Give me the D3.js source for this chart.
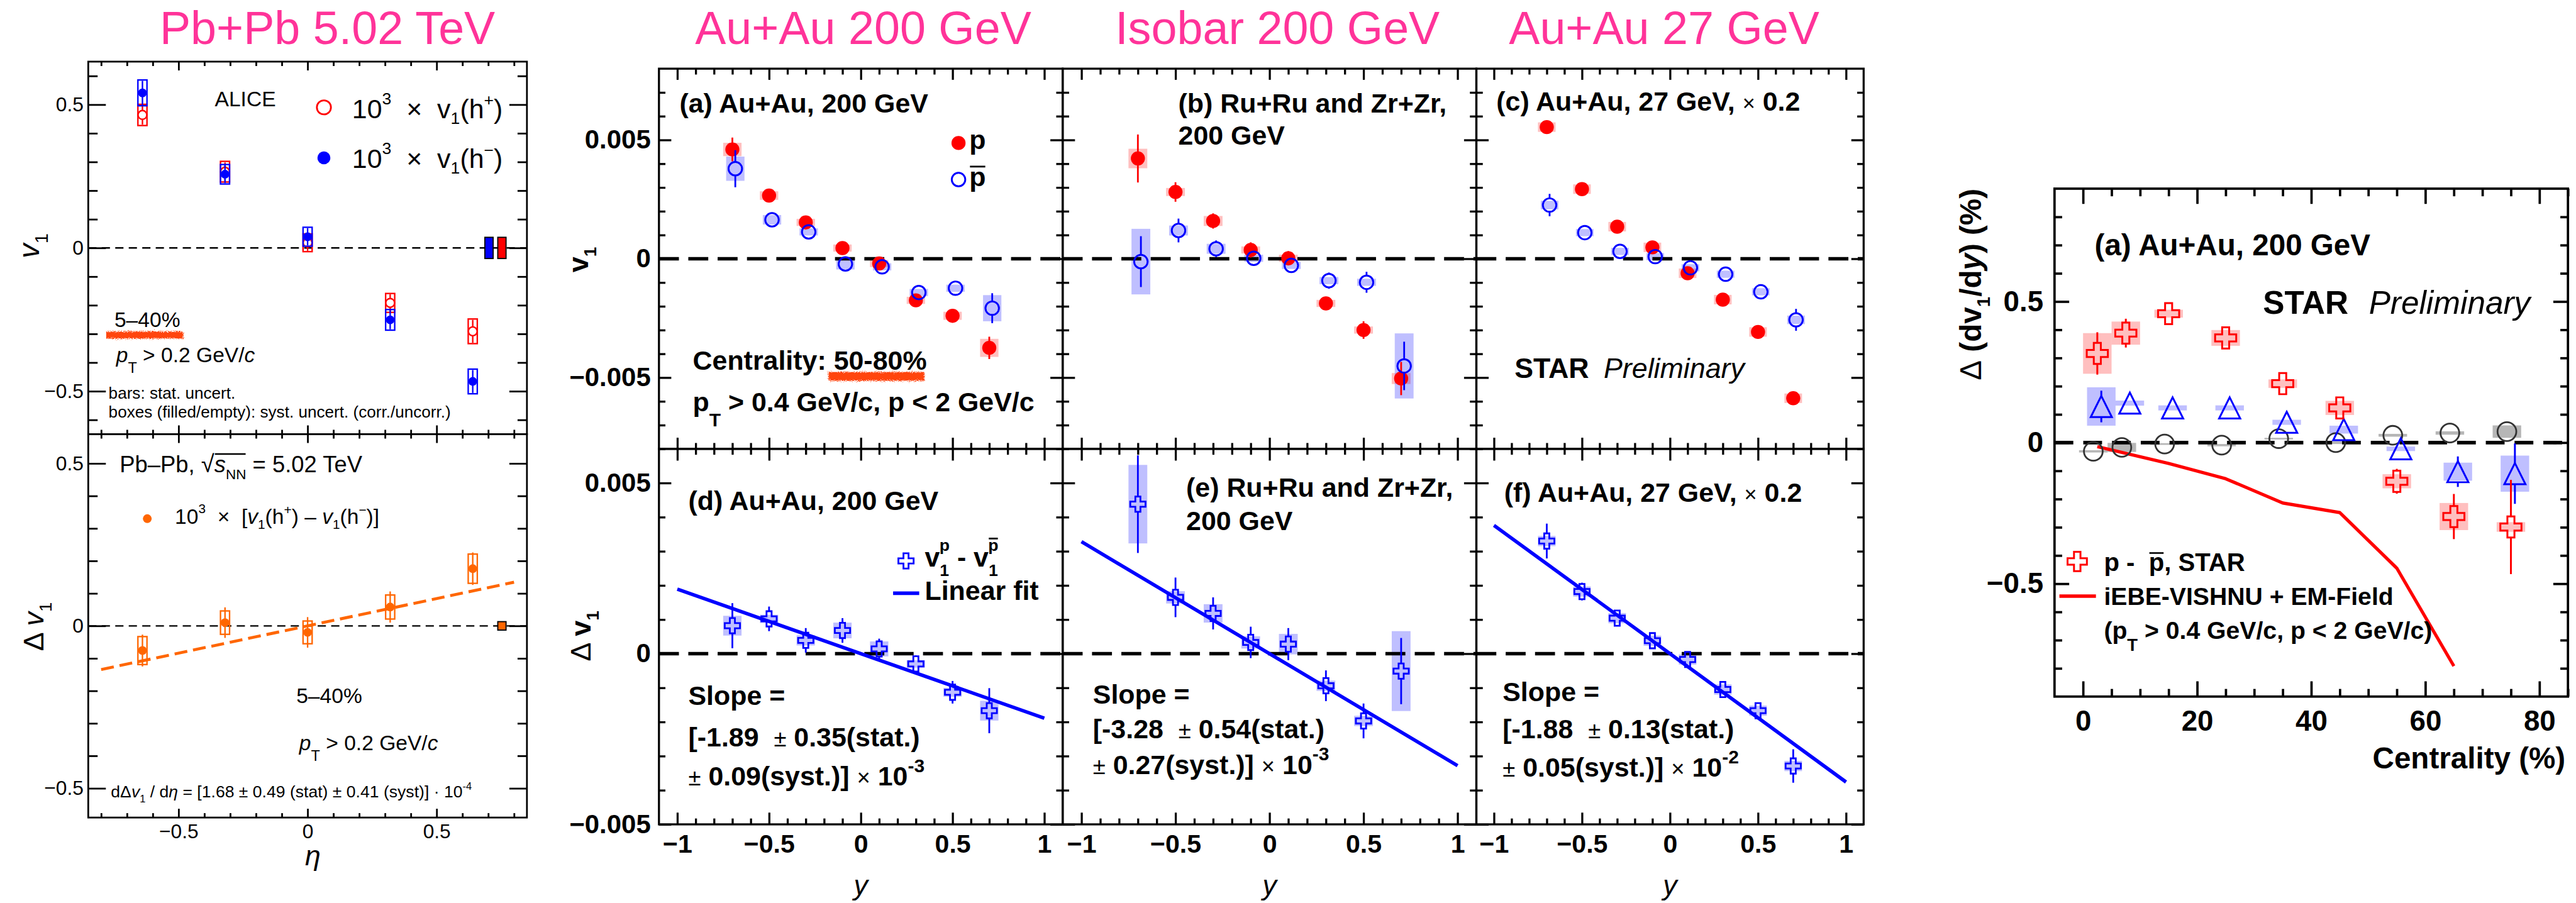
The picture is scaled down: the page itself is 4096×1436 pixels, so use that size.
<!DOCTYPE html>
<html>
<head>
<meta charset="utf-8">
<script src="https://cdn.jsdelivr.net/npm/d3@7"></script>
<style>
  html, body { margin: 0; padding: 0; background: #fff; }
  svg { display: block; }
  text { white-space: pre; }
</style>
</head>
<body>
<script>
// ---------------- ALICE Pb+Pb 5.02 TeV (5-40%) ----------------
const etaBins = [-0.64, -0.32, 0, 0.32, 0.64];
const v1HPlus = [0.464, 0.266, 0.018, -0.192, -0.291];
const v1HPlusStat = [0.034, 0.032, 0.028, 0.030, 0.040];
const v1HPlusSys = [0.037, 0.036, 0.031, 0.033, 0.043];
const v1HMinus = [0.541, 0.257, 0.039, -0.251, -0.466];
const v1HMinusStat = [0.042, 0.031, 0.030, 0.033, 0.040];
const v1HMinusSys = [0.045, 0.034, 0.033, 0.036, 0.043];
const v1CorrSys = [0.037, 0.037];            // h-, h+ correlated boxes
const dv1Eta = [-0.076, 0.010, -0.020, 0.058, 0.176];
const dv1EtaStat = [0.049, 0.047, 0.047, 0.048, 0.050];
const dv1EtaSys = [0.043, 0.036, 0.035, 0.037, 0.045];
const dv1EtaCorrSys = 0.013;
const dv1EtaSlope = 0.168;                    // 10^3 x 1.68e-4

// ---------------- STAR v1 vs rapidity ----------------
const rapidity = [-0.7, -0.5, -0.3, -0.1, 0.1, 0.3, 0.5, 0.7];

const v1pAu200 = [0.00460, 0.00266, 0.00153, 0.00045, -0.00020, -0.00175, -0.00240, -0.00375];
const v1pAu200Stat = [0.00050, 0.00016, 0.00015, 0.00015, 0.00015, 0.00016, 0.00016, 0.00047];
const v1pAu200Sys = [0.00028, 0.00018, 0.00015, 0.00015, 0.00015, 0.00015, 0.00017, 0.00038];
const v1pbarAu200 = [0.00379, 0.00164, 0.00113, -0.00022, -0.00034, -0.00142, -0.00124, -0.00208];
const v1pbarAu200Stat = [0.00078, 0.00030, 0.00020, 0.00020, 0.00020, 0.00020, 0.00020, 0.00063];
const v1pbarAu200Sys = [0.00051, 0.00020, 0.00015, 0.00023, 0.00015, 0.00015, 0.00015, 0.00055];

const v1pIso = [0.00422, 0.00281, 0.00159, 0.00037, 0.00002, -0.00188, -0.00300, -0.00504];
const v1pIsoStat = [0.00101, 0.00041, 0.00032, 0.00032, 0.00030, 0.00028, 0.00037, 0.00070];
const v1pIsoSys = [0.00041, 0.00017, 0.00021, 0.00015, 0.00015, 0.00015, 0.00015, 0.00023];
const v1pbarIso = [-0.00012, 0.00119, 0.00042, 0.00002, -0.00028, -0.00092, -0.00099, -0.00451];
const v1pbarIsoStat = [0.00107, 0.00050, 0.00035, 0.00030, 0.00030, 0.00034, 0.00044, 0.00102];
const v1pbarIsoSys = [0.00138, 0.00021, 0.00021, 0.00015, 0.00015, 0.00015, 0.00015, 0.00137];

// Au+Au 27 GeV values (drawn x 0.2)
const v1pAu27 = [0.0277, 0.01465, 0.00675, 0.0024, -0.00305, -0.0086, -0.0154, -0.02935];
const v1pAu27Stat = [0.00075, 0.00075, 0.00075, 0.00075, 0.00075, 0.00075, 0.00075, 0.00075];
const v1pAu27Sys = [0.001, 0.001, 0.001, 0.001, 0.001, 0.001, 0.001, 0.001];
const v1pbarAu27 = [0.0113, 0.0055, 0.00155, 0.00045, -0.0019, -0.00325, -0.00695, -0.01285];
const v1pbarAu27Stat = [0.00235, 0.00125, 0.0011, 0.0011, 0.0011, 0.0011, 0.00125, 0.0023];
const v1pbarAu27Sys = [0.0009, 0.00075, 0.00075, 0.00075, 0.00075, 0.00075, 0.00075, 0.0009];
const scaleAu27 = 0.2;

const dv1Au200 = [0.00082, 0.00102, 0.00039, 0.00068, 0.00014, -0.00030, -0.00113, -0.00167];
const dv1Au200Stat = [0.00066, 0.00036, 0.00036, 0.00036, 0.00030, 0.00025, 0.00033, 0.00066];
const dv1Au200Sys = [0.00029, 0.00012, 0.00015, 0.00023, 0.00022, 0.00011, 0.00013, 0.00029];
const dv1Iso = [0.00438, 0.00165, 0.00118, 0.00033, 0.00028, -0.00094, -0.00197, -0.00051];
const dv1IsoStat = [0.00143, 0.00058, 0.00047, 0.00046, 0.00047, 0.00045, 0.00051, 0.00097];
const dv1IsoSys = [0.00115, 0.00018, 0.00027, 0.00018, 0.00030, 0.00015, 0.00015, 0.00117];
const dv1Au27 = [0.0165, 0.0091, 0.0052, 0.0019, -0.00085, -0.00525, -0.00835, -0.01645];
const dv1Au27Stat = [0.00255, 0.0013, 0.0011, 0.0011, 0.0011, 0.0011, 0.0011, 0.00245];
const dv1Au27Sys = [0.00075, 0.00075, 0.00075, 0.00075, 0.00075, 0.00075, 0.00075, 0.00075];

const slopeAu200 = -1.89e-3;
const slopeIso = -3.28e-3;
const slopeAu27 = -1.88e-2;

// ---------------- STAR d(dv1/dy) vs centrality ----------------
const centrality = [2.5, 7.5, 15, 25, 35, 45, 55, 65, 75];
const dSlopePPbar = [0.316, 0.388, 0.457, 0.371, 0.209, 0.123, -0.137, -0.262, -0.299];
const dSlopePPbarStat = [0.075, 0.051, 0.020, 0.020, 0.020, 0.020, 0.044, 0.080, 0.167];
const dSlopePPbarSys = [0.072, 0.041, 0.014, 0.028, 0.015, 0.025, 0.025, 0.048, 0.017];
const dSlopeTriangle = [0.128, 0.140, 0.123, 0.123, 0.072, 0.046, -0.022, -0.103, -0.110];
const dSlopeTriangleStat = [0.056, 0.015, 0.010, 0.010, 0.015, 0.015, 0.020, 0.054, 0.107];
const dSlopeTriangleSys = [0.068, 0.009, 0.009, 0.009, 0.009, 0.014, 0.008, 0.032, 0.064];
const dSlopeCircle = [-0.031, -0.017, -0.005, -0.009, 0.014, 0.000, 0.026, 0.034, 0.039];
const dSlopeCircleSys = [0.004, 0.016, 0.003, 0.004, 0.003, 0.005, 0.005, 0.006, 0.022];
const modelCentrality = [2.5, 15, 25, 35, 45, 55, 65];
const modelEMField = [-0.014, -0.074, -0.128, -0.214, -0.248, -0.445, -0.792];

// ---------------- drawing ----------------
const FONT = "'Liberation Sans', Arial, Helvetica, sans-serif";
const PINK = '#ff3399', RED = '#ff0000', BLUE = '#0000ff', ORANGE = '#ff6600';
const W = 4390, H = 1539;

const svg = d3.select('body').append('svg')
  .attr('width', 4096).attr('height', 1436)
  .attr('viewBox', `0 0 ${W} ${H}`);

const defs = svg.append('defs');
const rough = defs.append('filter').attr('id', 'rough').attr('x', '-10%').attr('y', '-80%').attr('width', '120%').attr('height', '260%');
rough.append('feTurbulence').attr('type', 'fractalNoise').attr('baseFrequency', '0.9').attr('numOctaves', 2).attr('seed', 3).attr('result', 'n');
rough.append('feDisplacementMap').attr('in', 'SourceGraphic').attr('in2', 'n').attr('scale', 9);

const overlineJobs = [];

// Rich text: parts are strings or {t, sub, sup, i, w, s, dx, over, overY}
function rich(parent, x, y, parts, o) {
  const g = parent.append('g').attr('transform', `translate(${x},${y})` + (o.rot ? ` rotate(${o.rot})` : ''));
  const t = g.append('text')
    .attr('font-family', FONT).attr('font-size', o.size)
    .attr('font-weight', o.weight || 'normal').attr('fill', o.fill || '#000')
    .attr('text-anchor', o.anchor || 'start');
  if (o.italic) t.attr('font-style', 'italic');
  let shift = 0;
  parts.forEach(p => {
    if (typeof p === 'string') p = { t: p };
    let target = 0, sc = p.s || 1;
    if (p.sub) { target = (p.sub === true ? 0.3 : p.sub); sc = p.s || 0.62; }
    if (p.sup) { target = -(p.sup === true ? 0.45 : p.sup); sc = p.s || 0.62; }
    const ts = t.append('tspan').text(p.t).attr('font-size', o.size * sc);
    const d = (target - shift) * o.size;
    if (d) ts.attr('dy', d);
    shift = target;
    if (p.dx) ts.attr('dx', p.dx * o.size);
    if (p.i) ts.attr('font-style', 'italic');
    if (p.w) ts.attr('font-weight', p.w);
    if (p.over) overlineJobs.push({ g, node: ts.node(), id: p.over, yb: target * o.size, fs: o.size * sc, overY: p.overY, base: o.size, color: o.fill || '#000' });
  });
  return g;
}

function drawOverlines() {
  const groups = d3.group(overlineJobs, d => d.g.node(), d => d.id);
  groups.forEach(byId => byId.forEach(jobs => {
    let xa = Infinity, xb = -Infinity, yTop = Infinity;
    jobs.forEach(j => {
      const n = j.node.getNumberOfChars();
      for (let k = 0; k < n; k++) {
        const e = j.node.getExtentOfChar(k);
        xa = Math.min(xa, e.x); xb = Math.max(xb, e.x + e.width);
      }
      const yy = j.overY !== undefined ? -j.overY * j.base : j.yb - 0.72 * j.fs;
      yTop = Math.min(yTop, yy);
    });
    const j0 = jobs[0];
    j0.g.append('line').attr('x1', xa + 1).attr('x2', xb - 1).attr('y1', yTop).attr('y2', yTop)
      .attr('stroke', j0.color).attr('stroke-width', Math.max(2, 0.065 * j0.base));
  }));
}

function crossPath(s) {
  const h = s / 2, a = s / 6;
  return `M${-a},${-h}H${a}V${-a}H${h}V${a}H${a}V${h}H${-a}V${a}H${-h}V${-a}H${-a}Z`;
}
function trianglePath(s) {
  const h = s / 2;
  return `M0,${-h}L${h},${h}L${-h},${h}Z`;
}

// Ticks on all four sides, pointing inward, built from d3 axes
function frame(g, xs, ys, o) {
  const [x0, x1] = xs.range();
  const [yb, yt] = ys.range();
  const put = (mk, tx, ty, vals, len) => {
    g.append('g').attr('transform', `translate(${tx},${ty})`)
      .call(mk().tickValues(vals).tickSizeInner(-len).tickSizeOuter(0).tickFormat(''))
      .call(s => s.select('.domain').remove())
      .call(s => s.selectAll('line').attr('stroke', '#000').attr('stroke-width', o.sw));
  };
  put(() => d3.axisBottom(xs), 0, yb, o.xMajor, o.xLen[0]);
  put(() => d3.axisBottom(xs), 0, yb, o.xMinor, o.xLen[1]);
  put(() => d3.axisTop(xs), 0, yt, o.xMajor, o.xLen[0]);
  put(() => d3.axisTop(xs), 0, yt, o.xMinor, o.xLen[1]);
  put(() => d3.axisLeft(ys), x0, 0, o.yMajor, o.yLen[0]);
  put(() => d3.axisLeft(ys), x0, 0, o.yMinor, o.yLen[1]);
  put(() => d3.axisRight(ys), x1, 0, o.yMajor, o.yLen[0]);
  put(() => d3.axisRight(ys), x1, 0, o.yMinor, o.yLen[1]);
  g.append('rect').attr('x', x0).attr('y', yt).attr('width', x1 - x0).attr('height', yb - yt)
    .attr('fill', 'none').attr('stroke', '#000').attr('stroke-width', o.sw);
}

function tickLabels(g, axis, tx, ty, vals, size, weight, pad) {
  g.append('g').attr('transform', `translate(${tx},${ty})`)
    .call(axis.tickValues(vals).tickSize(0).tickPadding(pad).tickFormat(d3.format('~g')))
    .call(s => s.select('.domain').remove())
    .call(s => s.selectAll('text').attr('font-family', FONT).attr('font-size', size)
      .attr('font-weight', weight).attr('fill', '#000'));
}

function zeroLine(g, xs, ys, o) {
  g.append('line').attr('x1', xs.range()[0]).attr('x2', xs.range()[1])
    .attr('y1', ys(0)).attr('y2', ys(0))
    .attr('stroke', '#000').attr('stroke-width', o.w).attr('stroke-dasharray', o.dash);
}

// Error bars with a gap for open markers
function statBars(g, rows, xs, ys, color, width, gap) {
  rows.forEach(d => {
    const x = xs(d.x), yc = ys(d.v), yTop = ys(d.v + d.st), yBot = ys(d.v - d.st);
    if (gap > 0) {
      if (yc - gap > yTop) g.append('line').attr('x1', x).attr('x2', x).attr('y1', yTop).attr('y2', yc - gap).attr('stroke', color).attr('stroke-width', width);
      if (yc + gap < yBot) g.append('line').attr('x1', x).attr('x2', x).attr('y1', yc + gap).attr('y2', yBot).attr('stroke', color).attr('stroke-width', width);
    } else {
      g.append('line').attr('x1', x).attr('x2', x).attr('y1', yTop).attr('y2', yBot).attr('stroke', color).attr('stroke-width', width);
    }
  });
}

function makeRows(xv, vals, stat, sys, dx, k) {
  return xv.map((x, i) => ({ x: x + dx, v: vals[i] * k, st: (stat ? stat[i] : 0) * k, sy: sys[i] * k }));
}

function shadedBoxes(g, rows, xs, ys, bw, fill, op) {
  g.selectAll(null).data(rows).join('rect')
    .attr('x', d => xs(d.x - bw)).attr('width', d => xs(d.x + bw) - xs(d.x - bw))
    .attr('y', d => ys(d.v + d.sy)).attr('height', d => ys(d.v - d.sy) - ys(d.v + d.sy))
    .attr('fill', fill).attr('fill-opacity', op);
}

// ---------------- pink headers ----------------
[['Pb+Pb 5.02 TeV', 558], ['Au+Au 200 GeV', 1471], ['Isobar 200 GeV', 2177], ['Au+Au 27 GeV', 2836]]
  .forEach(([t, x]) => svg.append('text').text(t).attr('x', x).attr('y', 75)
    .attr('text-anchor', 'middle').attr('font-family', FONT).attr('font-size', 79).attr('fill', PINK));

// ======================= ALICE panels =======================
{
  const g = svg.append('g');
  const xEta = d3.scaleLinear().domain([-0.85, 0.85]).range([150.4, 898]);
  const yTop = d3.scaleLinear().domain([-0.65, 0.65]).range([740, 105]);
  const yBot = d3.scaleLinear().domain([-0.59, 0.59]).range([1393.4, 740]);
  const etaMinor = d3.range(-0.8, 0.801, 0.1).map(v => +v.toFixed(2)).filter(v => Math.abs(v % 0.5) > 1e-6);
  const lMinor = (a, b) => d3.range(a, b + 0.001, 0.1).map(v => +v.toFixed(2)).filter(v => Math.abs(v % 0.5) > 1e-6);
  const axOpt = { xMajor: [-0.5, 0, 0.5], xMinor: etaMinor, xLen: [15, 7.5], yLen: [30, 16], sw: 3 };

  // top panel: v1 of h+ and h-
  zeroLine(g, xEta, yTop, { w: 2.5, dash: '14 9' });
  const bwL = 0.0176;
  const drawAlice = (vals, stat, sys, color, filled) => {
    const rows = makeRows(etaBins, vals, stat, sys, 0, 1);
    g.selectAll(null).data(rows).join('rect')
      .attr('x', d => xEta(d.x - bwL)).attr('width', d => xEta(d.x + bwL) - xEta(d.x - bwL))
      .attr('y', d => yTop(d.v + d.sy)).attr('height', d => yTop(d.v - d.sy) - yTop(d.v + d.sy))
      .attr('fill', 'none').attr('stroke', color).attr('stroke-width', 2.5);
    statBars(g, rows, xEta, yTop, color, 2.5, 0);
    g.selectAll(null).data(rows).join('circle')
      .attr('cx', d => xEta(d.x)).attr('cy', d => yTop(d.v)).attr('r', 7.5)
      .attr('fill', filled ? color : '#fff').attr('stroke', color).attr('stroke-width', filled ? 0 : 2.5);
  };
  drawAlice(v1HPlus, v1HPlusStat, v1HPlusSys, RED, false);
  drawAlice(v1HMinus, v1HMinusStat, v1HMinusSys, BLUE, true);
  // correlated systematic boxes
  [[0.703, v1CorrSys[0], BLUE], [0.753, v1CorrSys[1], RED]].forEach(([e, s, c]) => {
    g.append('rect').attr('x', xEta(e - 0.016)).attr('width', xEta(e + 0.016) - xEta(e - 0.016))
      .attr('y', yTop(s)).attr('height', yTop(-s) - yTop(s))
      .attr('fill', c).attr('stroke', '#000').attr('stroke-width', 2);
  });
  frame(g, xEta, yTop, Object.assign({ yMajor: [-0.5, 0, 0.5], yMinor: lMinor(-0.6, 0.6) }, axOpt));
  tickLabels(g, d3.axisLeft(yTop), 150.4, 0, [-0.5, 0, 0.5], 34, 'normal', 8);
  rich(g, 66, 419, [{ t: 'v', i: true }, { t: '1', sub: 0.3 }], { size: 50, rot: -90, anchor: 'middle' });

  rich(g, 366, 181, ['ALICE'], { size: 36 });
  g.append('circle').attr('cx', 552).attr('cy', 183).attr('r', 12).attr('fill', 'none').attr('stroke', RED).attr('stroke-width', 3);
  g.append('circle').attr('cx', 552).attr('cy', 269).attr('r', 11).attr('fill', BLUE);
  rich(g, 600, 201, ['10', { t: '3', sup: 0.5 }, '  ×  v', { t: '1', sub: 0.22 }, '(h', { t: '+', sup: 0.45 }, ')'], { size: 46 });
  rich(g, 600, 286, ['10', { t: '3', sup: 0.5 }, '  ×  v', { t: '1', sub: 0.22 }, '(h', { t: '−', sup: 0.45 }, ')'], { size: 46 });
  g.append('rect').attr('x', 181).attr('y', 565).attr('width', 131).attr('height', 12).attr('fill', '#ff4411').attr('filter', 'url(#rough)');
  rich(g, 195, 557, ['5–40%'], { size: 36 });
  rich(g, 198, 617, [{ t: 'p', i: true }, { t: 'T', sub: 0.5, s: 0.7 }, ' > 0.2 GeV/', { t: 'c', i: true }], { size: 36 });
  rich(g, 185, 680, ['bars: stat. uncert.'], { size: 28 });
  rich(g, 185, 712, ['boxes (filled/empty): syst. uncert. (corr./uncorr.)'], { size: 28 });

  // bottom panel: difference with linear fit
  zeroLine(g, xEta, yBot, { w: 2.5, dash: '14 9' });
  const rowsD = makeRows(etaBins, dv1Eta, dv1EtaStat, dv1EtaSys, 0, 1);
  g.selectAll(null).data(rowsD).join('rect')
    .attr('x', d => xEta(d.x - bwL)).attr('width', d => xEta(d.x + bwL) - xEta(d.x - bwL))
    .attr('y', d => yBot(d.v + d.sy)).attr('height', d => yBot(d.v - d.sy) - yBot(d.v + d.sy))
    .attr('fill', 'none').attr('stroke', ORANGE).attr('stroke-width', 2.5);
  statBars(g, rowsD, xEta, yBot, ORANGE, 2.5, 0);
  const fitL = [-0.8, 0.8];
  g.append('path').datum(fitL)
    .attr('d', d3.line().x(e => xEta(e)).y(e => yBot(dv1EtaSlope * e)))
    .attr('stroke', ORANGE).attr('stroke-width', 5).attr('stroke-dasharray', '22 10').attr('fill', 'none');
  g.selectAll(null).data(rowsD).join('circle')
    .attr('cx', d => xEta(d.x)).attr('cy', d => yBot(d.v)).attr('r', 7.5).attr('fill', ORANGE);
  g.append('rect').attr('x', xEta(0.753 - 0.016)).attr('width', xEta(0.753 + 0.016) - xEta(0.753 - 0.016))
    .attr('y', yBot(dv1EtaCorrSys)).attr('height', yBot(-dv1EtaCorrSys) - yBot(dv1EtaCorrSys))
    .attr('fill', ORANGE).attr('stroke', '#000').attr('stroke-width', 2);
  frame(g, xEta, yBot, Object.assign({ yMajor: [-0.5, 0, 0.5], yMinor: lMinor(-0.5, 0.5) }, axOpt));
  tickLabels(g, d3.axisLeft(yBot), 150.4, 0, [-0.5, 0, 0.5], 34, 'normal', 8);
  tickLabels(g, d3.axisBottom(xEta), 0, 1393.4, [-0.5, 0, 0.5], 34, 'normal', 11);
  rich(g, 533, 1475, [{ t: 'η', i: true }], { size: 48, anchor: 'middle' });
  rich(g, 74, 1068, ['Δ ', { t: 'v', i: true }, { t: '1', sub: 0.3 }], { size: 48, rot: -90, anchor: 'middle' });

  rich(g, 204, 805, ['Pb–Pb, ', { t: '√', s: 1.05 }, { t: 's', i: true, over: 'r', overY: 0.8 }, { t: 'NN', sub: 0.3, over: 'r' }, ' = 5.02 TeV'], { size: 39 });
  g.append('circle').attr('cx', 251).attr('cy', 884).attr('r', 7.5).attr('fill', ORANGE);
  rich(g, 298, 893, ['10', { t: '3', sup: 0.5 }, '  ×  [', { t: 'v', i: true }, { t: '1', sub: 0.22 }, '(h', { t: '+', sup: 0.45 }, ') – ', { t: 'v', i: true }, { t: '1', sub: 0.22 }, '(h', { t: '−', sup: 0.45 }, ')]'], { size: 36 });
  rich(g, 505, 1198, ['5–40%'], { size: 36 });
  rich(g, 510, 1279, [{ t: 'p', i: true }, { t: 'T', sub: 0.5, s: 0.7 }, ' > 0.2 GeV/', { t: 'c', i: true }], { size: 36 });
  rich(g, 189, 1358.6, ['dΔ', { t: 'v', i: true }, { t: '1', sub: 0.3 }, ' / d', { t: 'η', i: true }, ' = [1.68 ± 0.49 (stat) ± 0.41 (syst)] · 10', { t: '-4', sup: 0.45 }], { size: 28.5 });
}

// ======================= STAR v1(y) panels =======================
const midTop = d3.scaleLinear().domain([-0.008, 0.008]).range([765, 117]);
const midBot = d3.scaleLinear().domain([-0.005, 0.006]).range([1405, 765]);
const midCols = [
  { x0: 1123, x1: 1811 },
  { x0: 1811, x1: 2516 },
  { x0: 2516, x1: 3176 }
];
const stepTicks = (a, b, st, skip) => d3.range(a, b + st / 2, st).map(v => +v.toFixed(6)).filter(v => !skip.some(s => Math.abs(s - v) < st / 4));
const yMajorMid = [-0.005, 0, 0.005];
const xMajorMid = [-1, -0.5, 0, 0.5, 1];
const xMinorMid = stepTicks(-1, 1, 0.1, xMajorMid);

const topSets = [
  { p: [v1pAu200, v1pAu200Stat, v1pAu200Sys], pb: [v1pbarAu200, v1pbarAu200Stat, v1pbarAu200Sys], k: 1 },
  { p: [v1pIso, v1pIsoStat, v1pIsoSys], pb: [v1pbarIso, v1pbarIsoStat, v1pbarIsoSys], k: 1 },
  { p: [v1pAu27, v1pAu27Stat, v1pAu27Sys], pb: [v1pbarAu27, v1pbarAu27Stat, v1pbarAu27Sys], k: scaleAu27 }
];
const botSets = [
  { d: [dv1Au200, dv1Au200Stat, dv1Au200Sys], slope: slopeAu200, k: 1 },
  { d: [dv1Iso, dv1IsoStat, dv1IsoSys], slope: slopeIso, k: 1 },
  { d: [dv1Au27, dv1Au27Stat, dv1Au27Sys], slope: slopeAu27, k: scaleAu27 }
];

midCols.forEach((c, i) => {
  const xs = d3.scaleLinear().domain([-1.1, 1.1]).range([c.x0, c.x1]);
  const gT = svg.append('g'), gB = svg.append('g');
  const S = topSets[i], B = botSets[i];
  const pbarShift = 0.016;

  // top: v1 of p and pbar
  const rp = makeRows(rapidity, S.p[0], S.p[1], S.p[2], 0, S.k);
  const rb = makeRows(rapidity, S.pb[0], S.pb[1], S.pb[2], pbarShift, S.k);
  shadedBoxes(gT, rp, xs, midTop, 0.05, RED, 0.25);
  shadedBoxes(gT, rb, xs, midTop, 0.05, BLUE, 0.25);
  zeroLine(gT, xs, midTop, { w: 6, dash: '34 16' });
  statBars(gT, rp, xs, midTop, RED, 3, 0);
  gT.selectAll(null).data(rp).join('circle')
    .attr('cx', d => xs(d.x)).attr('cy', d => midTop(d.v)).attr('r', 12).attr('fill', RED);
  statBars(gT, rb, xs, midTop, BLUE, 3, 12);
  gT.selectAll(null).data(rb).join('circle')
    .attr('cx', d => xs(d.x)).attr('cy', d => midTop(d.v)).attr('r', 11.5)
    .attr('fill', 'none').attr('stroke', BLUE).attr('stroke-width', 3.2);
  frame(gT, xs, midTop, {
    xMajor: xMajorMid, xMinor: xMinorMid, yMajor: yMajorMid,
    yMinor: stepTicks(-0.007, 0.007, 0.001, yMajorMid), xLen: [19, 10], yLen: [21, 11], sw: 3.5
  });

  // bottom: difference and linear fit
  const rd = makeRows(rapidity, B.d[0], B.d[1], B.d[2], 0, B.k);
  shadedBoxes(gB, rd, xs, midBot, 0.05, BLUE, 0.25);
  zeroLine(gB, xs, midBot, { w: 6, dash: '34 16' });
  gB.append('path').datum([-1, 1])
    .attr('d', d3.line().x(v => xs(v)).y(v => midBot(B.slope * B.k * v)))
    .attr('stroke', BLUE).attr('stroke-width', 6).attr('fill', 'none');
  statBars(gB, rd, xs, midBot, BLUE, 3, 13);
  gB.selectAll(null).data(rd).join('path')
    .attr('transform', d => `translate(${xs(d.x)},${midBot(d.v)})`)
    .attr('d', crossPath(26)).attr('fill', 'none').attr('stroke', BLUE).attr('stroke-width', 3);
  frame(gB, xs, midBot, {
    xMajor: xMajorMid, xMinor: xMinorMid, yMajor: yMajorMid,
    yMinor: stepTicks(-0.004, 0.006, 0.001, yMajorMid), xLen: [20, 10], yLen: [21, 11], sw: 3.5
  });
  tickLabels(gB, d3.axisBottom(xs), 0, 1405, xMajorMid, 44, 'bold', 17);
  rich(gB, xs(0), 1525, [{ t: 'y', i: true }], { size: 48, anchor: 'middle' });
});

// axis labels of the first column
tickLabels(svg, d3.axisLeft(midTop), 1123, 0, yMajorMid, 45, 'bold', 14);
tickLabels(svg, d3.axisLeft(midBot), 1123, 0, yMajorMid, 45, 'bold', 14);
rich(svg, 1002, 442.7, ['v', { t: '1', sub: 0.3 }], { size: 48, weight: 'bold', rot: -90, anchor: 'middle' });
rich(svg, 1006, 1084, [{ t: 'Δ ', w: 'normal' }, 'v', { t: '1', sub: 0.3 }], { size: 48, weight: 'bold', rot: -90, anchor: 'middle' });

// panel annotations
const B46 = { size: 46, weight: 'bold' };
rich(svg, 1158, 191.5, ['(a) Au+Au, 200 GeV'], B46);
svg.append('circle').attr('cx', 1633.5).attr('cy', 243.7).attr('r', 12).attr('fill', RED);
svg.append('circle').attr('cx', 1633.5).attr('cy', 306).attr('r', 11.5).attr('fill', 'none').attr('stroke', BLUE).attr('stroke-width', 3.2);
rich(svg, 1652, 254, ['p'], B46);
rich(svg, 1652, 317, [{ t: 'p', over: 'b' }], B46);
svg.append('rect').attr('x', 1412).attr('y', 634).attr('width', 163).attr('height', 15).attr('fill', '#ff4411').attr('filter', 'url(#rough)');
rich(svg, 1180.6, 630.7, ['Centrality: 50-80%'], B46);
rich(svg, 1180.6, 701, ['p', { t: 'T', sub: 0.55, s: 0.7 }, ' > 0.4 GeV/c, p < 2 GeV/c'], B46);

rich(svg, 2008, 191.5, ['(b) Ru+Ru and Zr+Zr,'], B46);
rich(svg, 2008, 247, ['200 GeV'], B46);
rich(svg, 2550, 189, ['(c) Au+Au, 27 GeV, ', { t: '×', w: 'normal', s: 0.8 }, ' 0.2'], B46);
rich(svg, 2581, 644, ['STAR'], { size: 48, weight: 'bold' });
rich(svg, 2733, 644, ['Preliminary'], { size: 48, italic: true });

rich(svg, 1173, 869, ['(d) Au+Au, 200 GeV'], B46);
svg.append('path').attr('transform', 'translate(1544,956)').attr('d', crossPath(26))
  .attr('fill', 'none').attr('stroke', BLUE).attr('stroke-width', 3);
rich(svg, 1576, 966, ['v', { t: '1', sub: 0.35 }, { t: 'p', sup: 0.6, dx: -0.36 }, ' - v', { t: '1', sub: 0.35 }, { t: 'p', sup: 0.6, dx: -0.36, over: 'q' }], B46);
svg.append('line').attr('x1', 1522).attr('x2', 1566.5).attr('y1', 1011).attr('y2', 1011).attr('stroke', BLUE).attr('stroke-width', 6);
rich(svg, 1576, 1022, ['Linear fit'], B46);

const slopeText = (x, y0, y1, y2, v, st, sy, ex) => {
  rich(svg, x, y0, ['Slope ='], B46);
  rich(svg, x, y1, ['[' + v + '  ', { t: '±', w: 'normal', s: 0.85 }, ' ' + st + '(stat.)'], B46);
  rich(svg, x, y2, [{ t: '±', w: 'normal', s: 0.85 }, ' ' + sy + '(syst.)] ', { t: '×', w: 'normal', s: 0.85 }, ' 10', { t: ex, sup: 0.5, s: 0.7 }], B46);
};
slopeText(1173, 1201, 1271.7, 1338.8, '-1.89', '0.35', '0.09', '-3');
rich(svg, 2021.4, 847, ['(e) Ru+Ru and Zr+Zr,'], B46);
rich(svg, 2021.4, 903, ['200 GeV'], B46);
slopeText(1862.5, 1199.7, 1258.3, 1318.9, '-3.28', '0.54', '0.27', '-3');
rich(svg, 2563.4, 855.4, ['(f) Au+Au, 27 GeV, ', { t: '×', w: 'normal', s: 0.8 }, ' 0.2'], B46);
slopeText(2560.7, 1194.7, 1258.3, 1323.9, '-1.88', '0.13', '0.05', '-2');

// ======================= centrality panel =======================
{
  const g = svg.append('g');
  const xs = d3.scaleLinear().domain([-5, 85]).range([3501.3, 4376.3]);
  const ys = d3.scaleLinear().domain([-0.9, 0.9]).range([1187.2, 321.5]);
  const rRed = makeRows(centrality, dSlopePPbar, dSlopePPbarStat, dSlopePPbarSys, 0, 1);
  const rTri = makeRows(centrality, dSlopeTriangle, dSlopeTriangleStat, dSlopeTriangleSys, 0.7, 1);
  const rCirc = makeRows(centrality, dSlopeCircle, null, dSlopeCircleSys, -0.7, 1);
  shadedBoxes(g, rCirc, xs, ys, 2.5, '#7a7a7a', 0.55);
  shadedBoxes(g, rTri, xs, ys, 2.5, BLUE, 0.25);
  shadedBoxes(g, rRed, xs, ys, 2.5, RED, 0.25);
  zeroLine(g, xs, ys, { w: 6, dash: '32 17' });
  g.append('path').datum(modelCentrality.map((c, i) => [c, modelEMField[i]]))
    .attr('d', d3.line().x(d => xs(d[0])).y(d => ys(d[1])))
    .attr('fill', 'none').attr('stroke', RED).attr('stroke-width', 5.5).attr('stroke-linejoin', 'round');
  g.selectAll(null).data(rCirc).join('circle')
    .attr('cx', d => xs(d.x)).attr('cy', d => ys(d.v)).attr('r', 16)
    .attr('fill', 'none').attr('stroke', '#333').attr('stroke-width', 3);
  statBars(g, rTri, xs, ys, BLUE, 3.2, 18);
  g.selectAll(null).data(rTri).join('path')
    .attr('transform', d => `translate(${xs(d.x)},${ys(d.v)})`)
    .attr('d', trianglePath(36)).attr('fill', 'none').attr('stroke', BLUE).attr('stroke-width', 3.2);
  statBars(g, rRed, xs, ys, RED, 3.2, 18);
  g.selectAll(null).data(rRed).join('path')
    .attr('transform', d => `translate(${xs(d.x)},${ys(d.v)})`)
    .attr('d', crossPath(36)).attr('fill', 'none').attr('stroke', RED).attr('stroke-width', 3.2);
  frame(g, xs, ys, {
    xMajor: [0, 20, 40, 60, 80], xMinor: stepTicks(5, 85, 5, [0, 20, 40, 60, 80]),
    yMajor: [-0.5, 0, 0.5], yMinor: stepTicks(-0.8, 0.8, 0.1, [-0.5, 0, 0.5]),
    xLen: [26, 13], yLen: [25, 13], sw: 4
  });
  tickLabels(g, d3.axisLeft(ys), 3501.3, 0, [-0.5, 0, 0.5], 49, 'bold', 19);
  tickLabels(g, d3.axisBottom(xs), 0, 1187.2, [0, 20, 40, 60, 80], 49, 'bold', 23);
  rich(g, 4372, 1310, ['Centrality (%)'], { size: 51, weight: 'bold', anchor: 'end' });
  rich(g, 3376, 321.5, [{ t: 'Δ', w: 'normal' }, ' (dv', { t: '1', sub: 0.3 }, '/d', { t: 'y', i: true }, ') (%)'], { size: 51, weight: 'bold', rot: -90, anchor: 'end' });

  rich(g, 3569.6, 435, ['(a) Au+Au, 200 GeV'], { size: 51, weight: 'bold' });
  rich(g, 3856.5, 535, ['STAR'], { size: 55, weight: 'bold' });
  rich(g, 4037, 535, ['Preliminary'], { size: 55, italic: true });

  g.append('path').attr('transform', 'translate(3540,957)').attr('d', crossPath(33))
    .attr('fill', 'none').attr('stroke', RED).attr('stroke-width', 3.2);
  rich(g, 3585.5, 973.5, ['p -  ', { t: 'p', over: 'pb' }, ', STAR'], { size: 43, weight: 'bold' });
  g.append('line').attr('x1', 3509.6).attr('x2', 3571.9).attr('y1', 1016).attr('y2', 1016).attr('stroke', RED).attr('stroke-width', 6);
  rich(g, 3585.5, 1031, ['iEBE-VISHNU + EM-Field'], { size: 42, weight: 'bold' });
  rich(g, 3585.5, 1088.5, ['(p', { t: 'T', sub: 0.5, s: 0.7 }, ' > 0.4 GeV/c, p < 2 GeV/c)'], { size: 42, weight: 'bold' });
}

drawOverlines();
</script>
</body>
</html>
